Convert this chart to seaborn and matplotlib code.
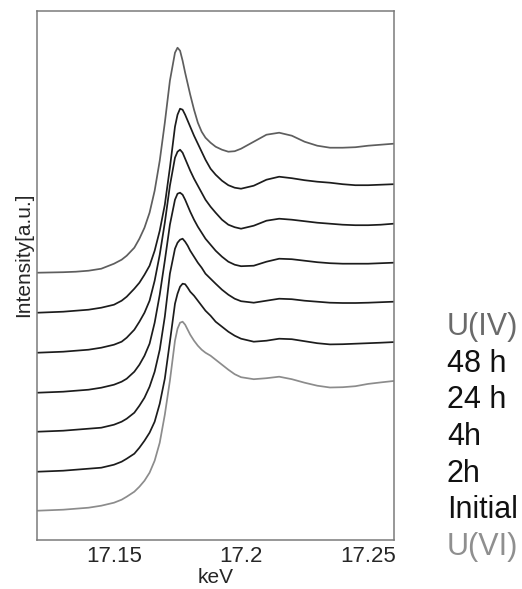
import numpy as np
import pandas as pd
import matplotlib
matplotlib.use("Agg")
import matplotlib.pyplot as plt
from matplotlib.ticker import MultipleLocator
import seaborn as sns

# energy grid (keV) shared by all spectra
kev = [17.12, 17.13, 17.135, 17.14, 17.145, 17.15, 17.153, 17.155, 17.158, 17.16,
       17.162, 17.164, 17.166, 17.168, 17.17, 17.172, 17.174, 17.175, 17.176, 17.177,
       17.178, 17.179, 17.18, 17.1815, 17.183, 17.1845, 17.186, 17.188, 17.19, 17.1925,
       17.195, 17.1975, 17.2, 17.205, 17.21, 17.215, 17.22, 17.225, 17.23, 17.235,
       17.24, 17.245, 17.25, 17.255, 17.26]

# intensities (a.u.), top to bottom
u4 = [0, 0.5, 1, 2, 4, 9, 13, 17, 25, 34,
      45, 60, 82, 112, 150, 192, 220, 225, 222, 212,
      200, 189, 178, 163, 150, 141, 135, 130, 126, 123,
      121, 121.5, 124, 131, 138, 140, 137, 131, 127, 125,
      125, 125.5, 127, 128, 129]
h48 = [0, 1, 2, 3, 5, 8, 12, 16, 24, 30,
       38, 47, 62, 82, 108, 145, 186, 198, 204, 203,
       198, 192, 186, 177, 169, 161, 153, 144, 138, 132,
       127.5, 125, 124, 127, 133, 136, 134.5, 132.5, 131, 130,
       128.5, 127.5, 127.5, 128, 128.5]
h24 = [0, 1, 2, 3, 5, 8, 11, 15, 23, 31,
       40, 52, 72, 98, 130, 167, 195, 201, 203, 200,
       194, 188, 182, 174, 167, 160, 153, 146, 140, 133,
       128, 125.5, 124, 127, 132, 134, 133, 131.5, 130, 129,
       128, 127.5, 127.5, 128, 129]
h4 = [0, 1, 2, 3, 5, 8, 11, 14, 21, 28,
      37, 49, 70, 98, 132, 168, 193, 199, 200, 198,
      193, 187, 181, 173, 166, 160, 154, 148, 142, 136,
      131, 128, 126.5, 127, 131, 134, 133.5, 132, 130.5, 129.5,
      129, 129, 129, 129.5, 130]
h2 = [0, 1, 2, 3, 4, 7, 10, 13, 19, 26,
      34, 45, 60, 82, 115, 158, 183, 189, 192, 193,
      190, 186, 181, 175, 169, 164, 158, 153, 148, 142,
      137, 133, 130.5, 129, 131, 133, 132.5, 131, 130, 129,
      128.7, 128.7, 129, 129.5, 130]
initial = [0, 1, 2, 3, 4, 7, 10, 13, 18, 24,
           31, 39, 50, 68, 93, 130, 168, 178, 185, 188,
           187.5, 184, 180, 176, 171, 166, 161, 156, 150, 145,
           140, 136, 133, 130, 131, 133, 132.5, 130.5, 128.5, 127.3,
           127.5, 128, 128.5, 129, 129.6]
u6 = [0, 1, 2, 3, 5, 8, 11, 14, 19, 24,
      30, 38, 50, 68, 96, 130, 170, 182, 188, 189,
      186, 181, 176, 170, 165, 161, 158, 155, 151, 146,
      141, 136.5, 133.5, 131.5, 132.5, 134, 131.5, 128, 125, 123.2,
      123.5, 124.5, 126.8, 128.3, 129.7]

labels = ["U(IV)", "48 h", "24 h", "4h", "2h", "Initial", "U(VI)"]
offsets = [238, 198, 158, 118, 79, 39, 0]
colors = ["#5e5e5e", "#1c1c1c", "#1c1c1c", "#1c1c1c", "#1c1c1c", "#1c1c1c", "#8c8c8c"]
text_colors = ["#6a6a6a", "#111111", "#111111", "#111111", "#111111", "#111111", "#8f8f8f"]

series = [u4, h48, h24, h4, h2, initial, u6]
frames = []
for lab, vals, off in zip(labels, series, offsets):
    frames.append(pd.DataFrame({"keV": kev,
                                "intensity": np.array(vals) + off,
                                "sample": lab}))
df = pd.concat(frames, ignore_index=True)

sns.set_style("white")
plt.rcParams["font.family"] = ["Liberation Sans", "DejaVu Sans"]

fig = plt.figure(figsize=(5.22, 5.89), dpi=100)
ax = fig.add_axes([0.0709, 0.0832, 0.6839, 0.8981])

sns.lineplot(data=df, x="keV", y="intensity", hue="sample",
             palette=dict(zip(labels, colors)), legend=False,
             linewidth=1.25, ax=ax, sort=False, estimator=None)

ax.set_xlim(17.1197, 17.2602)
ax.set_ylim(-29.3, 499.7)
ax.set_yticks([])
ax.xaxis.set_minor_locator(MultipleLocator(0.01))
ax.set_xticks([17.15, 17.2, 17.25])
ax.set_xticklabels(["17.15", "17.2", "17.25"])
ax.tick_params(axis="x", which="major", direction="in", length=7, width=1,
               color="#777777", labelsize=16, pad=4, top=False)
ax.tick_params(axis="x", which="minor", direction="in", length=4, width=1,
               color="#777777", top=False)

for sp in ax.spines.values():
    sp.set_color("#7a7a7a")
    sp.set_linewidth(1.1)

ax.set_xlabel("keV", fontsize=15, labelpad=1)
ax.set_ylabel("Intensity[a.u.]", fontsize=15)
ax.yaxis.set_label_coords(-0.012, 0.54)

# sample names listed to the right of the frame
for i, (lab, col) in enumerate(zip(labels, text_colors)):
    y_px = 335 + i * 36.7
    fig.text(447 / 522, 1 - y_px / 589, lab, fontsize=22, color=col,
             ha="left", va="baseline")

fig.savefig("out.png", dpi=100)
